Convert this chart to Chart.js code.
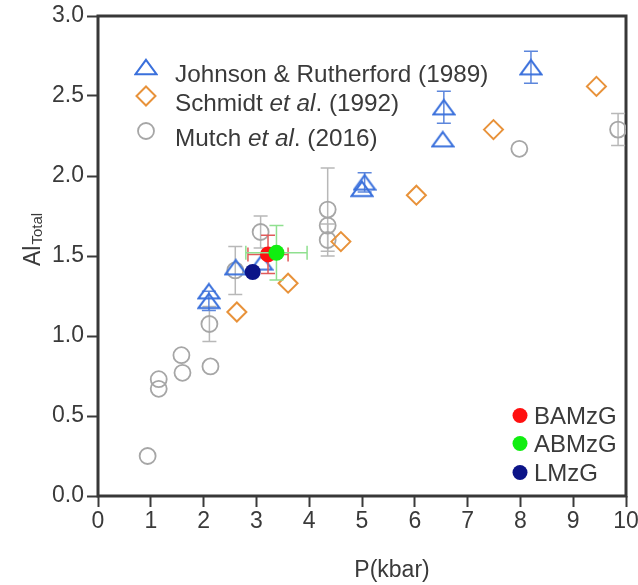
<!DOCTYPE html>
<html><head><meta charset="utf-8">
<script src="https://cdn.jsdelivr.net/npm/chart.js@4.4.0/dist/chart.umd.min.js"></script>
<style>html,body{margin:0;padding:0;background:#fff}#wrap{width:638px;height:585px;position:relative}</style>
</head><body><div id="wrap"><canvas id="c" width="638" height="585"></canvas></div>
<script>
// ---------- data ----------
const xTicks = [0,1,2,3,4,5,6,7,8,9,10];
const yTicks = [0,0.5,1.0,1.5,2.0,2.5,3.0];

const johnsonX    = [8.20, 6.55, 6.53, 5.05, 5.00, 2.61, 3.10, 2.10, 2.10];
const johnsonY    = [2.68, 2.43, 2.23, 1.96, 1.92, 1.43, 1.46, 1.28, 1.22];
const johnsonYErr = [0.10, 0.10, 0,    0.06, 0,    0,    0,    0,    0.06];

const schmidtX = [9.44, 7.49, 6.03, 4.60, 3.60, 2.63];
const schmidtY = [2.56, 2.29, 1.88, 1.59, 1.33, 1.15];

const mutchX    = [0.94, 1.15, 1.15, 1.60, 1.58, 2.13, 2.11, 2.60, 3.08, 4.35, 4.35, 4.35, 7.98, 9.85];
const mutchY    = [0.25, 0.73, 0.67, 0.77, 0.88, 0.81, 1.075,1.41, 1.65, 1.79, 1.69, 1.60, 2.17, 2.29];
const mutchYErr = [0,    0,    0,    0,    0,    0,    0.11, 0.15, 0.10, 0.26, 0,    0.10, 0,    0.10];

const bamzgX = [3.22], bamzgY = [1.51], bamzgXErr = [0.38], bamzgYErr = [0.12];
const abmzgX = [3.38], abmzgY = [1.52], abmzgXErr = [0.58], abmzgYErr = [0.17];
const lmzgX  = [2.93], lmzgY  = [1.40];

const legend1Labels = [
  [["Johnson & Rutherford (1989)", false]],
  [["Schmidt ", false], ["et al", true], [". (1992)", false]],
  [["Mutch ", false], ["et al", true], [". (2016)", false]]
];
const legend2Labels = ["BAMzG", "ABMzG", "LMzG"];
const xTitle = "P(kbar)";
const yTitleMain = "Al", yTitleSub = "Total";

// ---------- styles ----------
const FONT = "'Liberation Sans', Arial, sans-serif";
const TXT = '#3a3a3a';
const BLUE = '#3a70dc', ORANGE = '#e8923a', GRAY = '#a6a6a6';
const RED = '#ff1010', GREEN = '#10ee10', NAVY = '#0c1488';

function triImg(color) {
  const c = document.createElement('canvas');
  c.width = 24; c.height = 18;
  const g = c.getContext('2d');
  g.strokeStyle = color; g.lineWidth = 2; g.lineJoin = 'miter';
  g.beginPath(); g.moveTo(12, 1.8); g.lineTo(22.5, 16.2); g.lineTo(1.5, 16.2); g.closePath(); g.stroke();
  return c;
}
const TRI = triImg(BLUE);

const pts = (xs, ys) => xs.map((x, i) => ({x, y: ys[i]}));

const datasets = [
  {label:'LMzG', data: pts(lmzgX, lmzgY), pointStyle:'circle', pointRadius:8, pointBackgroundColor:NAVY, pointBorderColor:NAVY, pointBorderWidth:0},
  {label:'ABMzG', data: pts(abmzgX, abmzgY), pointStyle:'circle', pointRadius:8, pointBackgroundColor:GREEN, pointBorderColor:GREEN, pointBorderWidth:0,
    errX: abmzgXErr, errY: abmzgYErr, errColor:'#8fe08f'},
  {label:'BAMzG', data: pts(bamzgX, bamzgY), pointStyle:'circle', pointRadius:8, pointBackgroundColor:RED, pointBorderColor:RED, pointBorderWidth:0,
    errX: bamzgXErr, errY: bamzgYErr, errColor:'#e05a5a'},
  {label:'Schmidt', data: pts(schmidtX, schmidtY), pointStyle:'rectRot', pointRadius:9.5, pointBackgroundColor:'rgba(0,0,0,0)', pointBorderColor:ORANGE, pointBorderWidth:2},
  {label:'Johnson', data: pts(johnsonX, johnsonY), pointStyle:TRI, pointRadius:10, pointBackgroundColor:'rgba(0,0,0,0)', pointBorderColor:BLUE, pointBorderWidth:2,
    errY: johnsonYErr, errColor:'#5c86dc'},
  {label:'Mutch', data: pts(mutchX, mutchY), pointStyle:'circle', pointRadius:8, pointBackgroundColor:'rgba(0,0,0,0)', pointBorderColor:GRAY, pointBorderWidth:1.8,
    errY: mutchYErr, errColor:'#b8b8b8'}
].map(d => Object.assign({showLine:false, pointHoverRadius:d.pointRadius}, d));

// error bars (drawn just before each dataset, so markers sit on top)
const errorBars = {
  id:'errorBars',
  beforeDatasetDraw(chart, args) {
    const ds = chart.data.datasets[args.index];
    if (!ds.errX && !ds.errY) return;
    const xs = chart.scales.x, ys = chart.scales.y, ctx = chart.ctx;
    ctx.save();
    ctx.strokeStyle = ds.errColor; ctx.lineWidth = 1.5;
    const cap = 7;
    ds.data.forEach((p, i) => {
      const px = xs.getPixelForValue(p.x), py = ys.getPixelForValue(p.y);
      const ey = ds.errY ? ds.errY[i] : 0, ex = ds.errX ? ds.errX[i] : 0;
      ctx.beginPath();
      if (ey) {
        const t = ys.getPixelForValue(p.y + ey), b = ys.getPixelForValue(p.y - ey);
        ctx.moveTo(px, t); ctx.lineTo(px, b);
        ctx.moveTo(px - cap, t); ctx.lineTo(px + cap, t);
        ctx.moveTo(px - cap, b); ctx.lineTo(px + cap, b);
      }
      if (ex) {
        const l = xs.getPixelForValue(p.x - ex), r = xs.getPixelForValue(p.x + ex);
        ctx.moveTo(l, py); ctx.lineTo(r, py);
        ctx.moveTo(l, py - cap); ctx.lineTo(l, py + cap);
        ctx.moveTo(r, py - cap); ctx.lineTo(r, py + cap);
      }
      ctx.stroke();
    });
    ctx.restore();
  }
};

function drawMarker(ctx, type, x, y) {
  ctx.save();
  if (type === 'tri') {
    ctx.drawImage(TRI, x - TRI.width/2, y - TRI.height/2);
  } else if (type === 'dia') {
    ctx.strokeStyle = ORANGE; ctx.lineWidth = 2;
    const r = 9.5;
    ctx.beginPath(); ctx.moveTo(x, y - r); ctx.lineTo(x + r, y); ctx.lineTo(x, y + r); ctx.lineTo(x - r, y); ctx.closePath(); ctx.stroke();
  } else if (type === 'oc') {
    ctx.strokeStyle = GRAY; ctx.lineWidth = 1.8;
    ctx.beginPath(); ctx.arc(x, y, 8, 0, Math.PI*2); ctx.stroke();
  } else {
    ctx.fillStyle = type;
    ctx.beginPath(); ctx.arc(x, y, 7.5, 0, Math.PI*2); ctx.fill();
  }
  ctx.restore();
}

const decorations = {
  id:'decorations',
  beforeDatasetsDraw(chart) {
    const {ctx, chartArea:a} = chart;
    ctx.save();
    ctx.strokeStyle = '#383838'; ctx.lineWidth = 3;
    ctx.strokeRect(a.left, a.top, a.right - a.left, a.bottom - a.top);
    ctx.restore();
  },
  afterDraw(chart) {
    const ctx = chart.ctx;
    ctx.save();
    ctx.fillStyle = TXT;
    ctx.textBaseline = 'alphabetic';
    // legend 1
    const marks1 = ['tri', 'dia', 'oc'];
    const base1 = [81.5, 110.5, 145.5];
    legend1Labels.forEach((parts, i) => {
      drawMarker(ctx, marks1[i], 146, base1[i] - 14.5);
      let x = 175;
      parts.forEach(([t, it]) => {
        ctx.font = (it ? 'italic ' : '') + '24.3px ' + FONT;
        ctx.fillText(t, x, base1[i]);
        x += ctx.measureText(t).width;
      });
    });
    // legend 2
    const cols2 = [RED, GREEN, NAVY];
    const base2 = [423.5, 451.5, 480.5];
    ctx.font = '24px ' + FONT;
    legend2Labels.forEach((t, i) => {
      drawMarker(ctx, cols2[i], 520, base2[i] - 8);
      ctx.fillText(t, 534, base2[i]);
    });
    // x title
    ctx.textAlign = 'center';
    ctx.font = '23px ' + FONT;
    ctx.fillText(xTitle, 392, 577);
    // y title
    ctx.translate(40, 266);
    ctx.rotate(-Math.PI/2);
    ctx.textAlign = 'left';
    ctx.font = '23px ' + FONT;
    ctx.fillText(yTitleMain, 0, 0);
    const w = ctx.measureText(yTitleMain).width;
    ctx.font = '15px ' + FONT;
    ctx.fillText(yTitleSub, w + 1, 2);
    ctx.restore();
  }
};

new Chart(document.getElementById('c'), {
  type:'scatter',
  data:{datasets},
  plugins:[errorBars, decorations],
  options:{
    responsive:false, animation:false, devicePixelRatio:1,
    layout:{padding:{top:16, right:12, left:0, bottom:0}},
    plugins:{legend:{display:false}, tooltip:{enabled:false}},
    events:[],
    scales:{
      x:{type:'linear', min:0, max:10,
        afterBuildTicks:s => { s.ticks = xTicks.map(v => ({value:v})); },
        afterFit:s => { s.height = 89; s.paddingLeft = 0; s.paddingRight = 0; },
        border:{display:false},
        grid:{drawOnChartArea:false, drawTicks:true, tickLength:11, tickWidth:2, tickColor:'#3a3a3a'},
        ticks:{font:{family:FONT, size:23}, color:TXT, padding:1, maxRotation:0, autoSkip:false}
      },
      y:{type:'linear', min:0, max:3,
        afterBuildTicks:s => { s.ticks = yTicks.map(v => ({value:v})); },
        afterFit:s => { s.width = 98; s.paddingTop = 0; s.paddingBottom = 0; },
        border:{display:false},
        grid:{drawOnChartArea:false, drawTicks:true, tickLength:11, tickWidth:2, tickColor:'#3a3a3a'},
        ticks:{font:{family:FONT, size:23}, color:TXT, padding:3, autoSkip:false, callback:v => Number(v).toFixed(1)}
      }
    }
  }
});
</script>
</body></html>
